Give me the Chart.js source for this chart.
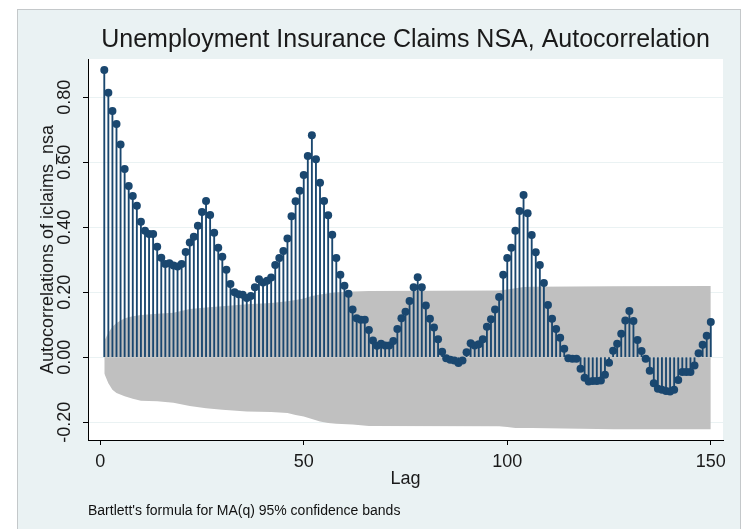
<!DOCTYPE html>
<html>
<head>
<meta charset="utf-8">
<title>Unemployment Insurance Claims NSA, Autocorrelation</title>
<script src="https://cdn.jsdelivr.net/npm/chart.js@4.4.1/dist/chart.umd.min.js"></script>
<style>
  html, body { margin: 0; padding: 0; background: #fff; }
  #wrap { width: 748px; height: 529px; }
</style>
</head>
<body>
<div id="wrap"><canvas id="acfChart" width="748" height="529"></canvas></div>
<script>
// autocorrelations of iclaims_nsa, lags 1..150
const lags = Array.from({ length: 150 }, (_, i) => i + 1);
const acf = [
  0.884, 0.814, 0.758, 0.718, 0.655, 0.579, 0.527, 0.496, 0.466, 0.417,
  0.389, 0.379, 0.379, 0.340, 0.306, 0.287, 0.289, 0.282, 0.279, 0.287,
  0.324, 0.353, 0.371, 0.405, 0.447, 0.481, 0.438, 0.383, 0.337, 0.309,
  0.269, 0.225, 0.200, 0.194, 0.192, 0.182, 0.188, 0.215, 0.240, 0.230,
  0.235, 0.245, 0.284, 0.305, 0.327, 0.365, 0.434, 0.480, 0.512, 0.561,
  0.619, 0.683, 0.609, 0.537, 0.481, 0.437, 0.377, 0.305, 0.254, 0.220,
  0.195, 0.147, 0.120, 0.115, 0.115, 0.084, 0.051, 0.035, 0.041, 0.036,
  0.036, 0.050, 0.087, 0.120, 0.140, 0.173, 0.215, 0.246, 0.215, 0.159,
  0.118, 0.091, 0.055, 0.017, -0.003, -0.008, -0.010, -0.018, -0.010, 0.015,
  0.043, 0.036, 0.040, 0.055, 0.094, 0.117, 0.147, 0.185, 0.254, 0.305,
  0.337, 0.389, 0.450, 0.499, 0.443, 0.376, 0.323, 0.284, 0.228, 0.161,
  0.118, 0.087, 0.060, 0.026, -0.003, -0.005, -0.005, -0.036, -0.063, -0.075,
  -0.073, -0.073, -0.072, -0.054, -0.017, 0.020, 0.041, 0.072, 0.113, 0.142,
  0.111, 0.053, 0.019, -0.005, -0.042, -0.080, -0.097, -0.100, -0.104, -0.106,
  -0.100, -0.070, -0.046, -0.046, -0.046, -0.026, 0.012, 0.038, 0.066, 0.108
];

// Bartlett 95% band, read at a few lags
const bandLags  = [1, 2, 3, 4, 6, 8, 10, 14, 18, 22, 26, 30, 36, 42, 46, 48, 50, 52, 54, 56, 58, 62, 66, 98, 100, 102, 104, 106, 126, 150];
const bandUpper = [0.050, 0.075, 0.094, 0.105, 0.120, 0.126, 0.130, 0.134, 0.137, 0.148, 0.153, 0.157, 0.163, 0.167, 0.172, 0.176, 0.181, 0.188, 0.193, 0.197, 0.200, 0.202, 0.204, 0.205, 0.208, 0.212, 0.216, 0.217, 0.218, 0.219];
const bandLower = [-0.050, -0.080, -0.100, -0.110, -0.120, -0.128, -0.134, -0.136, -0.140, -0.150, -0.157, -0.162, -0.167, -0.169, -0.172, -0.178, -0.183, -0.190, -0.198, -0.203, -0.205, -0.207, -0.212, -0.213, -0.215, -0.218, -0.218, -0.218, -0.222, -0.222];

const xTicks = [0, 50, 100, 150];
const yTicks = [-0.2, 0, 0.2, 0.4, 0.6, 0.8];
const yTickLabels = ['-0.20', '0.00', '0.20', '0.40', '0.60', '0.80'];

const NAVY = '#1a476f';
const FONT = '"Liberation Sans", Arial, Helvetica, sans-serif';

Chart.defaults.font.family = FONT;
Chart.defaults.color = '#1a1a1a';

// graph region + white plot region
const panelBackground = {
  id: 'panelBackground',
  beforeDraw(chart) {
    const { ctx, chartArea: a } = chart;
    ctx.save();
    ctx.fillStyle = '#ffffff';
    ctx.fillRect(0, 0, chart.width, chart.height);
    ctx.fillStyle = '#eaf2f3';
    ctx.fillRect(17, 9, 724, chart.height);
    ctx.strokeStyle = '#c4c8ca';
    ctx.lineWidth = 1;
    ctx.strokeRect(17.5, 9.5, 723, chart.height + 5);
    ctx.fillStyle = '#ffffff';
    ctx.fillRect(a.left, a.top, a.right - a.left, a.bottom - a.top);
    ctx.restore();
  }
};

// y labels are written sideways like the axis title
const sidewaysYLabels = {
  id: 'sidewaysYLabels',
  afterDraw(chart) {
    const y = chart.scales.y;
    const ctx = chart.ctx;
    ctx.save();
    ctx.font = '18px ' + FONT;
    ctx.fillStyle = '#1a1a1a';
    ctx.textAlign = 'center';
    ctx.textBaseline = 'middle';
    yTicks.forEach((v, i) => {
      ctx.save();
      ctx.translate(y.right - 23, y.getPixelForValue(v));
      ctx.rotate(-Math.PI / 2);
      ctx.fillText(yTickLabels[i], 0, 0);
      ctx.restore();
    });
    ctx.restore();
  }
};

new Chart(document.getElementById('acfChart'), {
  type: 'scatter',
  data: {
    datasets: [
      {
        type: 'scatter',
        data: lags.map((l, i) => ({ x: l, y: acf[i] })),
        pointRadius: 4,
        pointBackgroundColor: NAVY,
        pointBorderColor: NAVY,
        pointBorderWidth: 0,
        order: 0
      },
      {
        type: 'bar',
        data: lags.map((l, i) => ({ x: l, y: acf[i] })),
        backgroundColor: NAVY,
        barThickness: 1.2,
        order: 1
      },
      {
        type: 'line',
        data: bandLags.map((l, i) => ({ x: l, y: bandUpper[i] })),
        borderWidth: 0,
        pointRadius: 0,
        tension: 0,
        fill: 'origin',
        backgroundColor: '#c0c0c0',
        order: 2
      },
      {
        type: 'line',
        data: bandLags.map((l, i) => ({ x: l, y: bandLower[i] })),
        borderWidth: 0,
        pointRadius: 0,
        tension: 0,
        fill: 'origin',
        backgroundColor: '#c0c0c0',
        order: 2
      }
    ]
  },
  options: {
    responsive: false,
    animation: false,
    events: [],
    layout: { padding: { top: 0, left: 0, right: 25, bottom: 0 } },
    plugins: {
      legend: { display: false },
      tooltip: { enabled: false },
      title: {
        display: true,
        text: 'Unemployment Insurance Claims NSA, Autocorrelation',
        fullSize: false,
        color: '#1a1a1a',
        font: { size: 25, weight: 'normal' },
        padding: { top: 25, bottom: 4 }
      },
      subtitle: {
        display: true,
        position: 'bottom',
        align: 'start',
        fullSize: false,
        text: "Bartlett's formula for MA(q) 95% confidence bands",
        color: '#111',
        font: { size: 14 },
        padding: { top: 12.6, bottom: 9.6 }
      }
    },
    scales: {
      x: {
        type: 'linear',
        min: -3,
        max: 153,
        offset: false,
        afterBuildTicks: s => { s.ticks = xTicks.map(v => ({ value: v })); },
        afterFit: s => { s.height = 50; },
        grid: {
          offset: false,
          drawOnChartArea: false,
          tickLength: 5,
          tickColor: '#000',
          tickWidth: 1
        },
        border: { color: '#000', width: 1 },
        ticks: { font: { size: 18 }, padding: 6, color: '#1a1a1a', maxRotation: 0 },
        title: {
          display: true,
          text: 'Lag',
          font: { size: 18 },
          color: '#1a1a1a',
          padding: { top: 0, bottom: 0 }
        }
      },
      y: {
        type: 'linear',
        min: -0.255,
        max: 0.918,
        afterBuildTicks: s => { s.ticks = yTicks.map(v => ({ value: v })); },
        afterFit: s => { s.width = 88; },
        grid: {
          color: '#eaf2f3',
          lineWidth: 1,
          tickLength: 5,
          tickColor: '#000',
          tickWidth: 1
        },
        border: { color: '#000', width: 1 },
        ticks: { display: false },
        title: {
          display: true,
          text: 'Autocorrelations of iclaims_nsa',
          font: { size: 18 },
          color: '#1a1a1a',
          padding: { top: 37, bottom: 0 }
        }
      }
    }
  },
  plugins: [panelBackground, sidewaysYLabels]
});
</script>
</body>
</html>
